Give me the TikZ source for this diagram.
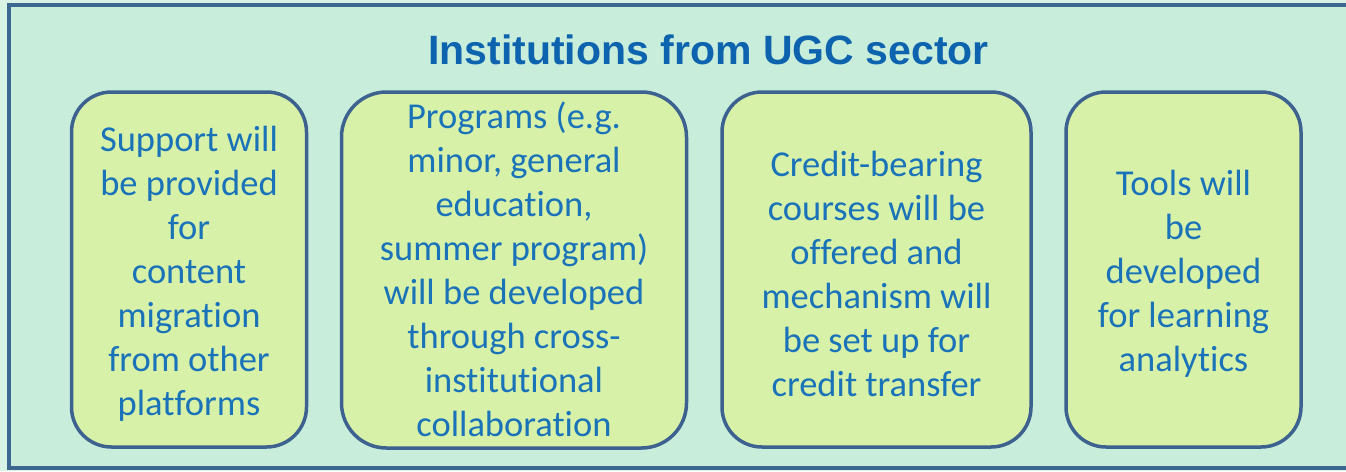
\documentclass[tikz,border=0pt]{standalone}
\usepackage{fontspec}
\setmainfont{Carlito}[Ligatures={NoCommon}]
\newfontfamily\titlefont{Liberation Sans}
\definecolor{bgmint}{HTML}{C8EEDB}
\definecolor{boxfill}{HTML}{D7F1A9}
\definecolor{boxline}{HTML}{3E6290}
\definecolor{frameline}{HTML}{3B6790}
\definecolor{txtblue}{HTML}{1A72B8}
\definecolor{titleblue}{HTML}{0E63AE}
\tikzset{
  card/.style={draw=boxline, line width=3.5pt, fill=boxfill, rounded corners=40pt,
    inner sep=0pt},
  cardtext/.style={inner sep=0pt, align=center, text=txtblue,
    font=\fontsize{36.5}{44}\selectfont},
}
\begin{document}
\begin{tikzpicture}[x=1pt,y=-1pt]
\useasboundingbox (0,0) rectangle (1346,471);
\fill[bgmint!70!white] (0,0) rectangle (1346,471);
\fill[bgmint] (9,5) rectangle (1346,468);
\draw[frameline, line width=4pt] (1346,5) -- (9,5) -- (9,468) -- (1346,468);
\node[font=\titlefont\bfseries\fontsize{41}{46}\selectfont, text=titleblue] (title) at (708.5,50) {Institutions from UGC sector};
\node[card, minimum width=235pt, minimum height=355pt] (b1) at (189,269.5) {};
\node[card, minimum width=345pt, minimum height=356pt, rounded corners=45pt] (b2) at (514,270) {};
\node[card, minimum width=309pt, minimum height=355pt] (b3) at (876.5,269.5) {};
\node[card, minimum width=235pt, minimum height=355pt] (b4) at (1183.5,269.5) {};
\node[cardtext] (t1) at ([yshift=-4pt]b1.center)
  {Support will\\be provided\\for\\content\\migration\\from other\\platforms};
\node[cardtext] (t2) at ([yshift=1pt]b2.center)
  {Programs (e.g.\\minor, general\\education,\\summer program)\\will be developed\\through cross-\\institutional\\collaboration};
\node[cardtext] (t3) at ([yshift=-4pt]b3.center)
  {Credit-bearing\\courses will be\\offered and\\mechanism will\\be set up for\\credit transfer};
\node[cardtext] (t4) at ([yshift=-4pt]b4.center)
  {Tools will\\be\\developed\\for learning\\analytics};
\end{tikzpicture}
\end{document}
